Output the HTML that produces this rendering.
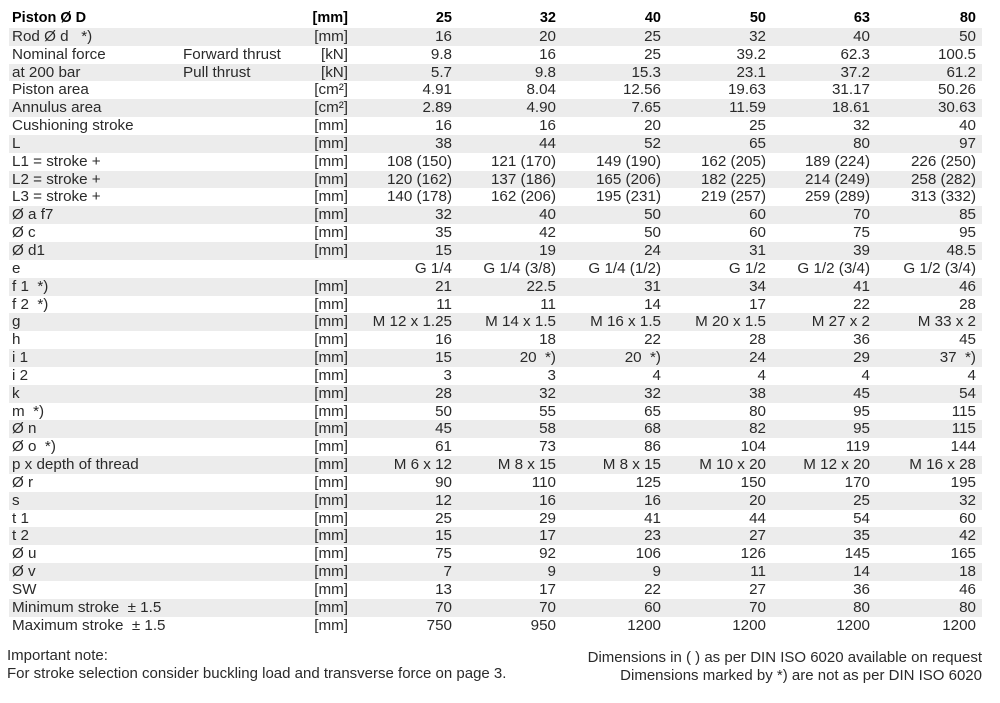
<!DOCTYPE html>
<html><head><meta charset="utf-8"><style>
body{margin:0;width:1000px;height:703px;background:#fff;font-family:"Liberation Sans",Arial,sans-serif;color:#2a2a2a;position:relative;overflow:hidden}
table{position:absolute;left:9px;top:10px;border-collapse:collapse;table-layout:fixed;width:973px;font-size:15.2px}
td{height:17.85px;padding:0;white-space:nowrap;line-height:17.85px;overflow:visible}
tr:nth-child(even) td{background:#ececec}
tr:first-child td{font-weight:bold;color:#000;font-size:14.5px}
td:nth-child(1),td:nth-child(2){padding-left:3px;text-align:left}
td{text-align:right}
td:nth-child(9){padding-right:6px}
.f{position:absolute;font-size:15px;line-height:18px}
</style></head><body>
<table>
<colgroup><col style="width:171px"><col style="width:120px"><col style="width:48px"><col style="width:104px"><col style="width:104px"><col style="width:105px"><col style="width:105px"><col style="width:104px"><col style="width:112px"></colgroup>
<tr><td>Piston Ø D</td><td></td><td>[mm]</td><td>25</td><td>32</td><td>40</td><td>50</td><td>63</td><td>80</td></tr>
<tr><td>Rod Ø d &nbsp; *)</td><td></td><td>[mm]</td><td>16</td><td>20</td><td>25</td><td>32</td><td>40</td><td>50</td></tr>
<tr><td>Nominal force</td><td>Forward thrust</td><td>[kN]</td><td>9.8</td><td>16</td><td>25</td><td>39.2</td><td>62.3</td><td>100.5</td></tr>
<tr><td>at 200 bar</td><td>Pull thrust</td><td>[kN]</td><td>5.7</td><td>9.8</td><td>15.3</td><td>23.1</td><td>37.2</td><td>61.2</td></tr>
<tr><td>Piston area</td><td></td><td>[cm²]</td><td>4.91</td><td>8.04</td><td>12.56</td><td>19.63</td><td>31.17</td><td>50.26</td></tr>
<tr><td>Annulus area</td><td></td><td>[cm²]</td><td>2.89</td><td>4.90</td><td>7.65</td><td>11.59</td><td>18.61</td><td>30.63</td></tr>
<tr><td>Cushioning stroke</td><td></td><td>[mm]</td><td>16</td><td>16</td><td>20</td><td>25</td><td>32</td><td>40</td></tr>
<tr><td>L</td><td></td><td>[mm]</td><td>38</td><td>44</td><td>52</td><td>65</td><td>80</td><td>97</td></tr>
<tr><td>L1 = stroke +</td><td></td><td>[mm]</td><td>108 (150)</td><td>121 (170)</td><td>149 (190)</td><td>162 (205)</td><td>189 (224)</td><td>226 (250)</td></tr>
<tr><td>L2 = stroke +</td><td></td><td>[mm]</td><td>120 (162)</td><td>137 (186)</td><td>165 (206)</td><td>182 (225)</td><td>214 (249)</td><td>258 (282)</td></tr>
<tr><td>L3 = stroke +</td><td></td><td>[mm]</td><td>140 (178)</td><td>162 (206)</td><td>195 (231)</td><td>219 (257)</td><td>259 (289)</td><td>313 (332)</td></tr>
<tr><td>Ø a f7</td><td></td><td>[mm]</td><td>32</td><td>40</td><td>50</td><td>60</td><td>70</td><td>85</td></tr>
<tr><td>Ø c</td><td></td><td>[mm]</td><td>35</td><td>42</td><td>50</td><td>60</td><td>75</td><td>95</td></tr>
<tr><td>Ø d1</td><td></td><td>[mm]</td><td>15</td><td>19</td><td>24</td><td>31</td><td>39</td><td>48.5</td></tr>
<tr><td>e</td><td></td><td></td><td>G 1/4</td><td>G 1/4 (3/8)</td><td>G 1/4 (1/2)</td><td>G 1/2</td><td>G 1/2 (3/4)</td><td>G 1/2 (3/4)</td></tr>
<tr><td>f 1 &nbsp;*)</td><td></td><td>[mm]</td><td>21</td><td>22.5</td><td>31</td><td>34</td><td>41</td><td>46</td></tr>
<tr><td>f 2 &nbsp;*)</td><td></td><td>[mm]</td><td>11</td><td>11</td><td>14</td><td>17</td><td>22</td><td>28</td></tr>
<tr><td>g</td><td></td><td>[mm]</td><td>M 12 x 1.25</td><td>M 14 x 1.5</td><td>M 16 x 1.5</td><td>M 20 x 1.5</td><td>M 27 x 2</td><td>M 33 x 2</td></tr>
<tr><td>h</td><td></td><td>[mm]</td><td>16</td><td>18</td><td>22</td><td>28</td><td>36</td><td>45</td></tr>
<tr><td>i 1</td><td></td><td>[mm]</td><td>15</td><td>20 &nbsp;*)</td><td>20 &nbsp;*)</td><td>24</td><td>29</td><td>37 &nbsp;*)</td></tr>
<tr><td>i 2</td><td></td><td>[mm]</td><td>3</td><td>3</td><td>4</td><td>4</td><td>4</td><td>4</td></tr>
<tr><td>k</td><td></td><td>[mm]</td><td>28</td><td>32</td><td>32</td><td>38</td><td>45</td><td>54</td></tr>
<tr><td>m &nbsp;*)</td><td></td><td>[mm]</td><td>50</td><td>55</td><td>65</td><td>80</td><td>95</td><td>115</td></tr>
<tr><td>Ø n</td><td></td><td>[mm]</td><td>45</td><td>58</td><td>68</td><td>82</td><td>95</td><td>115</td></tr>
<tr><td>Ø o &nbsp;*)</td><td></td><td>[mm]</td><td>61</td><td>73</td><td>86</td><td>104</td><td>119</td><td>144</td></tr>
<tr><td>p x depth of thread</td><td></td><td>[mm]</td><td>M 6 x 12</td><td>M 8 x 15</td><td>M 8 x 15</td><td>M 10 x 20</td><td>M 12 x 20</td><td>M 16 x 28</td></tr>
<tr><td>Ø r</td><td></td><td>[mm]</td><td>90</td><td>110</td><td>125</td><td>150</td><td>170</td><td>195</td></tr>
<tr><td>s</td><td></td><td>[mm]</td><td>12</td><td>16</td><td>16</td><td>20</td><td>25</td><td>32</td></tr>
<tr><td>t 1</td><td></td><td>[mm]</td><td>25</td><td>29</td><td>41</td><td>44</td><td>54</td><td>60</td></tr>
<tr><td>t 2</td><td></td><td>[mm]</td><td>15</td><td>17</td><td>23</td><td>27</td><td>35</td><td>42</td></tr>
<tr><td>Ø u</td><td></td><td>[mm]</td><td>75</td><td>92</td><td>106</td><td>126</td><td>145</td><td>165</td></tr>
<tr><td>Ø v</td><td></td><td>[mm]</td><td>7</td><td>9</td><td>9</td><td>11</td><td>14</td><td>18</td></tr>
<tr><td>SW</td><td></td><td>[mm]</td><td>13</td><td>17</td><td>22</td><td>27</td><td>36</td><td>46</td></tr>
<tr><td>Minimum stroke &nbsp;± 1.5</td><td></td><td>[mm]</td><td>70</td><td>70</td><td>60</td><td>70</td><td>80</td><td>80</td></tr>
<tr><td>Maximum stroke &nbsp;± 1.5</td><td></td><td>[mm]</td><td>750</td><td>950</td><td>1200</td><td>1200</td><td>1200</td><td>1200</td></tr>
</table>
<div class="f" style="left:7px;top:647px">Important note:<br>For stroke selection consider buckling load and transverse force on page 3.</div>
<div class="f" style="right:18px;top:649px;text-align:right">Dimensions in ( ) as per DIN ISO 6020 available on request<br>Dimensions marked by *) are not as per DIN ISO 6020</div>
</body></html>
